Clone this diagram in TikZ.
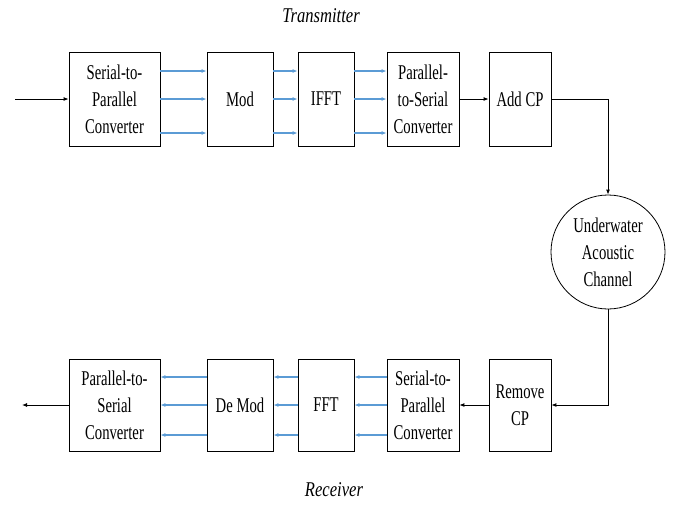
\documentclass[tikz,border=0pt]{standalone}
\usepackage{fontspec}
\setmainfont{Liberation Serif}[FakeStretch=0.7]
\newfontfamily\titlefont{Liberation Serif}[FakeStretch=0.79]
\usepackage{tikz}
\usetikzlibrary{arrows.meta}
\definecolor{linkblue}{RGB}{91,155,213}

\begin{document}
\begin{tikzpicture}[x=1pt,y=-1pt,
        >={Latex[length=5pt,width=4pt]},
        blockbox/.style={draw,line width=0.8pt,align=center,inner sep=0pt,
            font=\fontsize{21}{27}\selectfont},
        chanbox/.style={draw,circle,line width=0.8pt,align=center,inner sep=0pt,
            minimum size=114pt,font=\fontsize{21}{27}\selectfont},
        bluelink/.style={->,line width=1.1pt,linkblue,>={Latex[length=5pt,width=4pt]}},
        blacklink/.style={->,line width=0.9pt},
        heading/.style={font=\titlefont\itshape\fontsize{21}{25}\selectfont}]
        \useasboundingbox (0,0) rectangle (675,504);
        % transmitter
        \node[heading] (tx) at (321,16) {Transmitter};
        \node[blockbox,minimum width=91pt,minimum height=94pt] (sp) at (114.5,99) {Serial-to-\\Parallel\\Converter};
        \node[blockbox,minimum width=66pt,minimum height=94pt] (mod) at (240,99) {Mod};
        \node[blockbox,minimum width=56pt,minimum height=94pt] (ifft) at (326,99) {IFFT};
        \node[blockbox,minimum width=72pt,minimum height=94pt] (ps) at (423,99) {Parallel-\\to-Serial\\Converter};
        \node[blockbox,minimum width=62pt,minimum height=94pt] (addcp) at (520,99) {Add CP};
        % channel
        \node[chanbox] (chan) at (608,252) {Underwater\\Acoustic\\Channel};
        % receiver
        \node[blockbox,minimum width=91pt,minimum height=92pt] (rxps) at (114.5,405) {Parallel-to-\\Serial\\Converter};
        \node[blockbox,minimum width=66pt,minimum height=92pt] (demod) at (240,405) {De Mod};
        \node[blockbox,minimum width=56pt,minimum height=92pt] (fft) at (326,405) {FFT};
        \node[blockbox,minimum width=72pt,minimum height=92pt] (rxsp) at (423,405) {Serial-to-\\Parallel\\Converter};
        \node[blockbox,minimum width=62pt,minimum height=92pt] (rmcp) at (520,405) {Remove\\CP};
        \node[heading] (rx) at (334,490) {Receiver};
        \coordinate (in) at (15,99);
        \coordinate (out) at (22,405);
        % black connectors
        \draw[blacklink] (in) -- (sp.west);
        \draw[blacklink] (ps.east) -- (addcp.west);
        \draw[blacklink] (addcp.east) -| (chan.north);
        \draw[blacklink] (chan.south) |- (rmcp.east);
        \draw[blacklink] (rmcp.west) -- (rxsp.east);
        \draw[blacklink] (rxps.west) -- (out);
        % blue parallel lines
        \foreach \a/\b in {sp/mod,mod/ifft,ifft/ps}{
            \draw[bluelink] ([yshift=28pt]\a.east) -- ([yshift=28pt]\b.west);
            \draw[bluelink] (\a.east) -- (\b.west);
            \draw[bluelink] ([yshift=-34pt]\a.east) -- ([yshift=-34pt]\b.west);
        }
        \foreach \a/\b in {demod/rxps,fft/demod,rxsp/fft}{
            \draw[bluelink] ([yshift=28pt]\a.west) -- ([yshift=28pt]\b.east);
            \draw[bluelink] (\a.west) -- (\b.east);
            \draw[bluelink] ([yshift=-30pt]\a.west) -- ([yshift=-30pt]\b.east);
        }
\end{tikzpicture}
\end{document}
